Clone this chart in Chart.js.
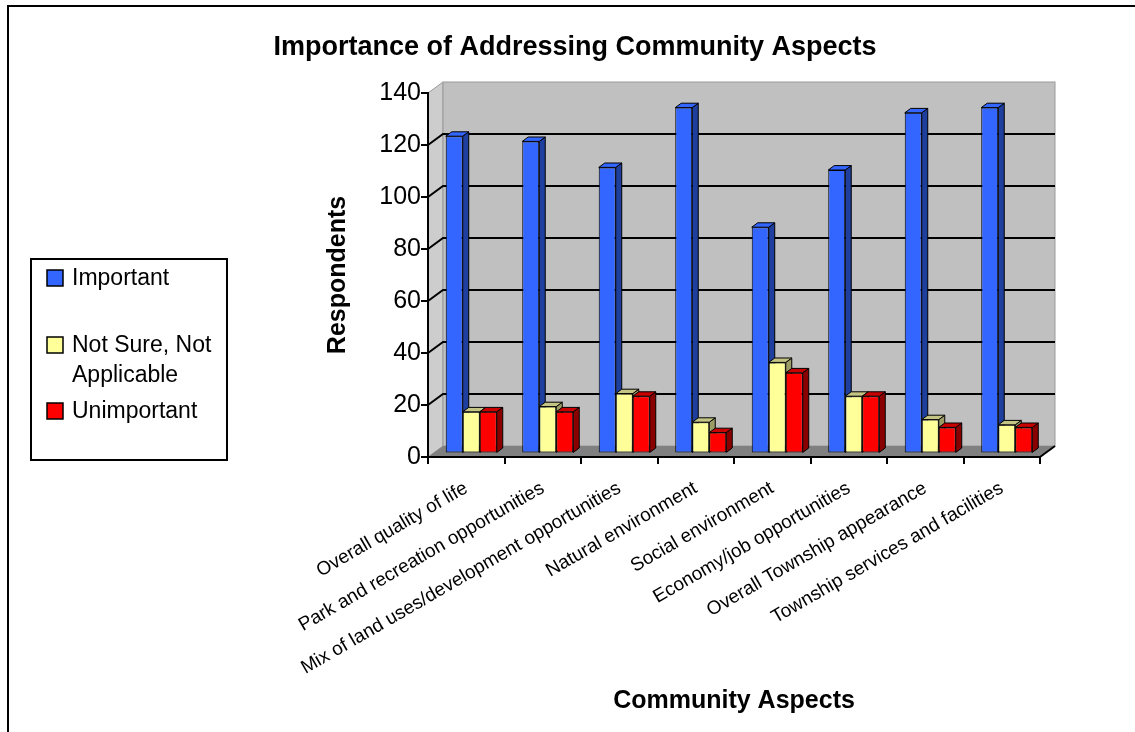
<!DOCTYPE html>
<html>
<head>
<meta charset="utf-8">
<title>Importance of Addressing Community Aspects</title>
<script src="https://cdn.jsdelivr.net/npm/chart.js@4.4.1/dist/chart.umd.min.js"></script>
<style>
  html, body { margin: 0; padding: 0; background: #fff; }
  #wrap { position: relative; width: 1135px; height: 732px; }
</style>
</head>
<body>
<div id="wrap"><canvas id="aspectsChart"></canvas></div>
<script>
// Survey data
const aspects = [
    'Overall quality of life',
    'Park and recreation opportunities',
    'Mix of land uses/development opportunities',
    'Natural environment',
    'Social environment',
    'Economy/job opportunities',
    'Overall Township appearance',
    'Township services and facilities'
];
const important = [122, 120, 110, 133, 87, 109, 131, 133];
const notSure = [16, 18, 23, 12, 35, 22, 13, 11];
const unimportant = [16, 16, 22, 8, 31, 22, 10, 10];
const yTicks = [0, 20, 40, 60, 80, 100, 120, 140];

// Oblique offsets used to fake the 3D look
const WALL_DX = 15, WALL_DY = -11;    // front axis -> back wall
const BAR_DX = 5, BAR_DY = -3.6;      // front axis -> bar front faces
const DEPTH_DX = 6, DEPTH_DY = -4.4;  // bar thickness

// front, side, top colours per series
const shades = [
    { face: '#3366ff', side: '#1f3f9e', top: '#3366ff' },
    { face: '#ffff99', side: '#9c9c66', top: '#c4c484' },
    { face: '#ff0000', side: '#8a0000', top: '#c80000' }
];

Chart.defaults.font.family = "'Liberation Sans', Arial, Helvetica, sans-serif";
Chart.defaults.color = '#000';

// Frame, legend, walls, floor and back gridlines
const backdrop = {
    id: 'backdrop',
    beforeDraw(chart) {
        const ctx = chart.ctx;
        const yScale = chart.scales.y;
        const area = chart.chartArea;
        const yTop = yScale.getPixelForValue(yTicks[yTicks.length - 1]);
        const yBot = yScale.getPixelForValue(0);
        const left = area.left, right = area.right;

        ctx.save();
        ctx.fillStyle = '#fff';
        ctx.fillRect(0, 0, chart.width, chart.height);

        // outer frame
        ctx.strokeStyle = '#000';
        ctx.lineWidth = 2;
        ctx.strokeRect(8, 6, chart.width + 20, chart.height + 20);

        // left side wall
        ctx.beginPath();
        ctx.moveTo(left, yBot);
        ctx.lineTo(left, yTop);
        ctx.lineTo(left + WALL_DX, yTop + WALL_DY);
        ctx.lineTo(left + WALL_DX, yBot + WALL_DY);
        ctx.closePath();
        ctx.fillStyle = '#cdcdcd';
        ctx.fill();
        ctx.strokeStyle = '#9a9a9a';
        ctx.lineWidth = 1;
        ctx.stroke();

        // back wall
        ctx.fillStyle = '#c0c0c0';
        ctx.fillRect(left + WALL_DX, yTop + WALL_DY, right - left, yBot - yTop);
        ctx.strokeStyle = '#9a9a9a';
        ctx.strokeRect(left + WALL_DX, yTop + WALL_DY, right - left, yBot - yTop);

        // floor
        ctx.beginPath();
        ctx.moveTo(left, yBot);
        ctx.lineTo(left + WALL_DX, yBot + WALL_DY);
        ctx.lineTo(right + WALL_DX, yBot + WALL_DY);
        ctx.lineTo(right, yBot);
        ctx.closePath();
        ctx.fillStyle = '#808080';
        ctx.fill();

        // gridlines bend from the side wall onto the back wall
        ctx.strokeStyle = '#000';
        ctx.lineWidth = 2;
        yTicks.slice(1, -1).forEach(v => {
            const py = yScale.getPixelForValue(v);
            ctx.beginPath();
            ctx.moveTo(left, py);
            ctx.lineTo(left + WALL_DX, py + WALL_DY);
            ctx.lineTo(right + WALL_DX, py + WALL_DY);
            ctx.stroke();
        });

        // right edge of the floor
        ctx.beginPath();
        ctx.moveTo(right, yBot);
        ctx.lineTo(right + WALL_DX, yBot + WALL_DY);
        ctx.stroke();

        // legend box
        ctx.fillStyle = '#fff';
        ctx.fillRect(31, 259, 196, 201);
        ctx.strokeStyle = '#000';
        ctx.lineWidth = 2;
        ctx.strokeRect(31, 259, 196, 201);

        ctx.font = "23px 'Liberation Sans', Arial, sans-serif";
        ctx.textBaseline = 'middle';
        ctx.textAlign = 'left';
        const itemY = [278, 345, 411];
        chart.data.datasets.forEach((ds, i) => {
            const y = itemY[i];
            ctx.fillStyle = ds.backgroundColor;
            ctx.fillRect(47, y - 8, 16, 16);
            ctx.lineWidth = 1.5;
            ctx.strokeStyle = '#000';
            ctx.strokeRect(47, y - 8, 16, 16);

            // wrap long labels to the box width
            const words = ds.label.split(' ');
            const lines = [];
            let line = '';
            words.forEach(w => {
                const test = line ? line + ' ' + w : w;
                if (line && ctx.measureText(test).width > 147) {
                    lines.push(line);
                    line = w;
                } else {
                    line = test;
                }
            });
            lines.push(line);
            ctx.fillStyle = '#000';
            lines.forEach((t, k) => ctx.fillText(t, 72, y + 1 + k * 30));
        });
        ctx.restore();
    }
};

// Bars are painted here, left series first, so each bar's side face
// is covered by the next bar in the cluster
const bars3d = {
    id: 'bars3d',
    beforeDatasetDraw() {
        return false;
    },
    afterDatasetsDraw(chart) {
        const ctx = chart.ctx;
        ctx.save();
        ctx.translate(BAR_DX, BAR_DY);
        chart.data.datasets.forEach((ds, i) => {
            const meta = chart.getDatasetMeta(i);
            const shade = shades[i];
            meta.data.forEach(bar => {
                const { x, y, base, width } = bar.getProps(['x', 'y', 'base', 'width'], true);
                const l = x - width / 2, r = x + width / 2;
                bar.draw(ctx, chart.chartArea);

                ctx.lineWidth = 1;
                ctx.strokeStyle = '#000';
                // side
                ctx.beginPath();
                ctx.moveTo(r, y);
                ctx.lineTo(r + DEPTH_DX, y + DEPTH_DY);
                ctx.lineTo(r + DEPTH_DX, base + DEPTH_DY);
                ctx.lineTo(r, base);
                ctx.closePath();
                ctx.fillStyle = shade.side;
                ctx.fill();
                ctx.stroke();
                // top
                ctx.beginPath();
                ctx.moveTo(l, y);
                ctx.lineTo(l + DEPTH_DX, y + DEPTH_DY);
                ctx.lineTo(r + DEPTH_DX, y + DEPTH_DY);
                ctx.lineTo(r, y);
                ctx.closePath();
                ctx.fillStyle = shade.top;
                ctx.fill();
                ctx.stroke();
            });
        });
        ctx.restore();
    }
};

function series(label, data, i) {
    return {
        label: label,
        data: data,
        backgroundColor: shades[i].face,
        borderColor: '#000',
        borderWidth: 1,
        borderSkipped: false,
        categoryPercentage: 0.667,
        barPercentage: 1.0
    };
}

new Chart(document.getElementById('aspectsChart'), {
    type: 'bar',
    data: {
        labels: aspects,
        datasets: [
            series('Important', important, 0),
            series('Not Sure, Not Applicable', notSure, 1),
            series('Unimportant', unimportant, 2)
        ]
    },
    options: {
        responsive: true,
        maintainAspectRatio: false,
        animation: false,
        events: [],
        layout: { padding: { left: 110, right: 95, top: 0, bottom: 0 } },
        plugins: {
            legend: { display: false },
            tooltip: { enabled: false },
            title: {
                display: true,
                text: 'Importance of Addressing Community Aspects',
                color: '#000',
                font: { size: 27, weight: 'bold' },
                padding: { top: 31, bottom: 29.6 }
            }
        },
        scales: {
            x: {
                ticks: {
                    color: '#000',
                    font: { size: 19 },
                    minRotation: 30,
                    maxRotation: 30,
                    autoSkip: false,
                    padding: 13
                },
                grid: {
                    offset: true,
                    drawOnChartArea: false,
                    drawTicks: true,
                    tickLength: 7,
                    color: '#000',
                    lineWidth: 2
                },
                border: { display: true, color: '#000', width: 2 },
                title: {
                    display: true,
                    text: 'Community Aspects',
                    color: '#000',
                    font: { size: 25, weight: 'bold' },
                    padding: { top: 0, bottom: 16 }
                },
                afterFit(scale) { scale.height = 275; }
            },
            y: {
                min: 0,
                max: 140,
                ticks: {
                    stepSize: 20,
                    color: '#000',
                    font: { size: 25 },
                    padding: 0
                },
                grid: {
                    drawOnChartArea: false,
                    drawTicks: true,
                    tickLength: 7,
                    color: '#000',
                    lineWidth: 2
                },
                border: { display: true, color: '#000', width: 2 },
                title: {
                    display: true,
                    text: 'Respondents',
                    color: '#000',
                    font: { size: 25, weight: 'bold' },
                    padding: { top: 213, bottom: 0 }
                },
                afterFit(scale) { scale.width = 318; }
            }
        }
    },
    plugins: [backdrop, bars3d]
});
</script>
</body>
</html>
